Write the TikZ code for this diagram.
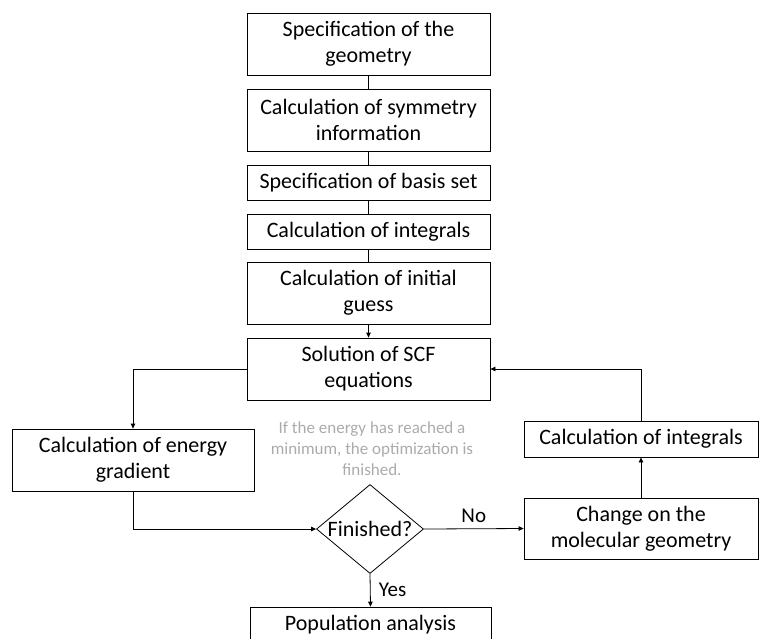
\documentclass[tikz,border=0pt]{standalone}
\usepackage{fontspec}
\setmainfont{Carlito}
\usepackage{tikz}
\usetikzlibrary{shapes,arrows,positioning,calc,arrows.meta}

\begin{document}
\begin{tikzpicture}[x=1pt,y=-1pt,line width=0.8pt,
    >={Triangle[length=5pt,width=4.5pt]},
    stepbox/.style={draw,rectangle,inner sep=0pt,align=center,minimum width=243pt,font=\fontsize{22}{26}\selectfont},
    decide/.style={draw,diamond,aspect=1.2,inner sep=0pt,minimum width=107pt,minimum height=89pt,font=\fontsize{22}{26}\selectfont},
    note/.style={align=center,text=black!33,font=\fontsize{17}{21}\selectfont},
    lbl/.style={font=\fontsize{21}{24}\selectfont}]
    \useasboundingbox (0,0) rectangle (759,638);
    \node[stepbox,minimum height=62pt] (geom) at (368.5,44) {Specification of the\\geometry};
    \node[stepbox,minimum height=62pt] (symm) at (368.5,120) {Calculation of symmetry\\information};
    \node[stepbox,minimum height=35pt] (basis) at (368.5,182.5) {Specification of basis set};
    \node[stepbox,minimum height=35pt] (integ) at (368.5,231.5) {Calculation of integrals};
    \node[stepbox,minimum height=62pt] (guess) at (368.5,293) {Calculation of initial\\guess};
    \node[stepbox,minimum height=62pt] (scf) at (368.5,369) {Solution of SCF\\equations};
    \node[stepbox,minimum height=62pt,minimum width=242pt] (grad) at (133,460) {Calculation of energy\\gradient};
    \node[decide] (done) at (370,529) {Finished?};
    \node[stepbox,minimum height=35pt,minimum width=241pt] (pop) at (370.5,624.5) {Population analysis};
    \node[stepbox,minimum height=61pt,minimum width=234pt] (change) at (641,528.5) {Change on the\\molecular geometry};
    \node[stepbox,minimum height=36pt,minimum width=234pt] (integb) at (641,439) {Calculation of integrals};
    \node[note] (hint) at (372,449) {If the energy has reached a\\minimum, the optimization is\\finished.};
    \draw (geom) -- (symm);
    \draw (symm) -- (basis);
    \draw (basis) -- (integ);
    \draw (integ) -- (guess);
    \draw[->] (guess) -- (scf);
    \draw[->] (scf.west) -| (grad.north);
    \draw[->] (grad.south) |- (done.west);
    \draw[->] (done.east) -- node[lbl,above=2pt] {No} (change.west);
    \draw[->] (done.south) -- node[lbl,right=5pt] {Yes} (pop.north);
    \draw[->] (change) -- (integb);
    \draw[->] (integb.north) |- (scf.east);
\end{tikzpicture}
\end{document}
